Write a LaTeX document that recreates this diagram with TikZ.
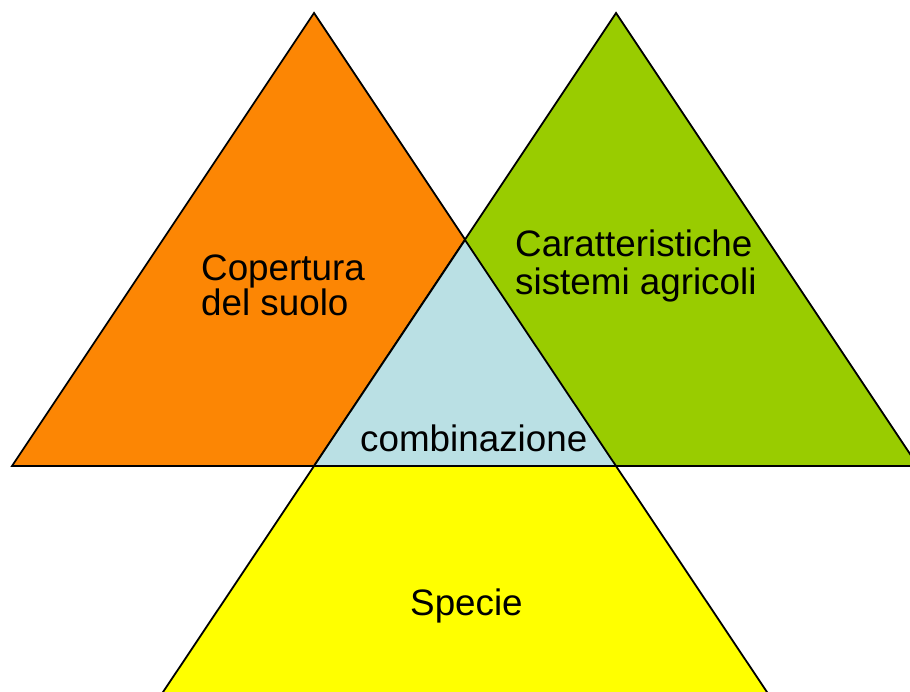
\documentclass[tikz,border=0pt]{standalone}
\usepackage{fontspec}
\setmainfont{Liberation Sans}
\definecolor{orangeA}{RGB}{252,134,4}
\definecolor{greenA}{RGB}{153,204,0}
\definecolor{blueA}{RGB}{186,224,228}
\definecolor{yellowA}{RGB}{255,255,0}
\tikzset{
  tri/.style={draw=black, line width=1.8pt, line join=miter},
  lbl/.style={anchor=base west, inner sep=0pt, font=\fontsize{36.8}{36.8}\selectfont, text=black}
}
\begin{document}
\begin{tikzpicture}[x=1pt,y=-1pt]
\useasboundingbox (0,0) rectangle (910,692);
\clip (0,0) rectangle (910,692);
\fill[white] (0,0) rectangle (910,692);
% yellow
\draw[tri, fill=yellowA] (465,240) -- (90.9,800) -- (839.1,800) -- cycle;
% orange
\draw[tri, fill=orangeA] (314,13) -- (12,466) -- (616,466) -- cycle;
% green
\draw[tri, fill=greenA] (616,13) -- (314,466) -- (918,466) -- cycle;
% blue intersection
\draw[tri, fill=blueA] (465,240) -- (314,466) -- (616,466) -- cycle;
% labels
\node[lbl] (cop1) at (201,280.7) {Copertura};
\node[lbl] (cop2) at (201,316) {del suolo};
\node[lbl] (car1) at (515,256.7) {Caratteristiche};
\node[lbl] (car2) at (515,295) {sistemi agricoli};
\node[lbl] (comb) at (360,451) {combinazione};
\node[lbl] (spec) at (410,615) {Specie};
\end{tikzpicture}
\end{document}
